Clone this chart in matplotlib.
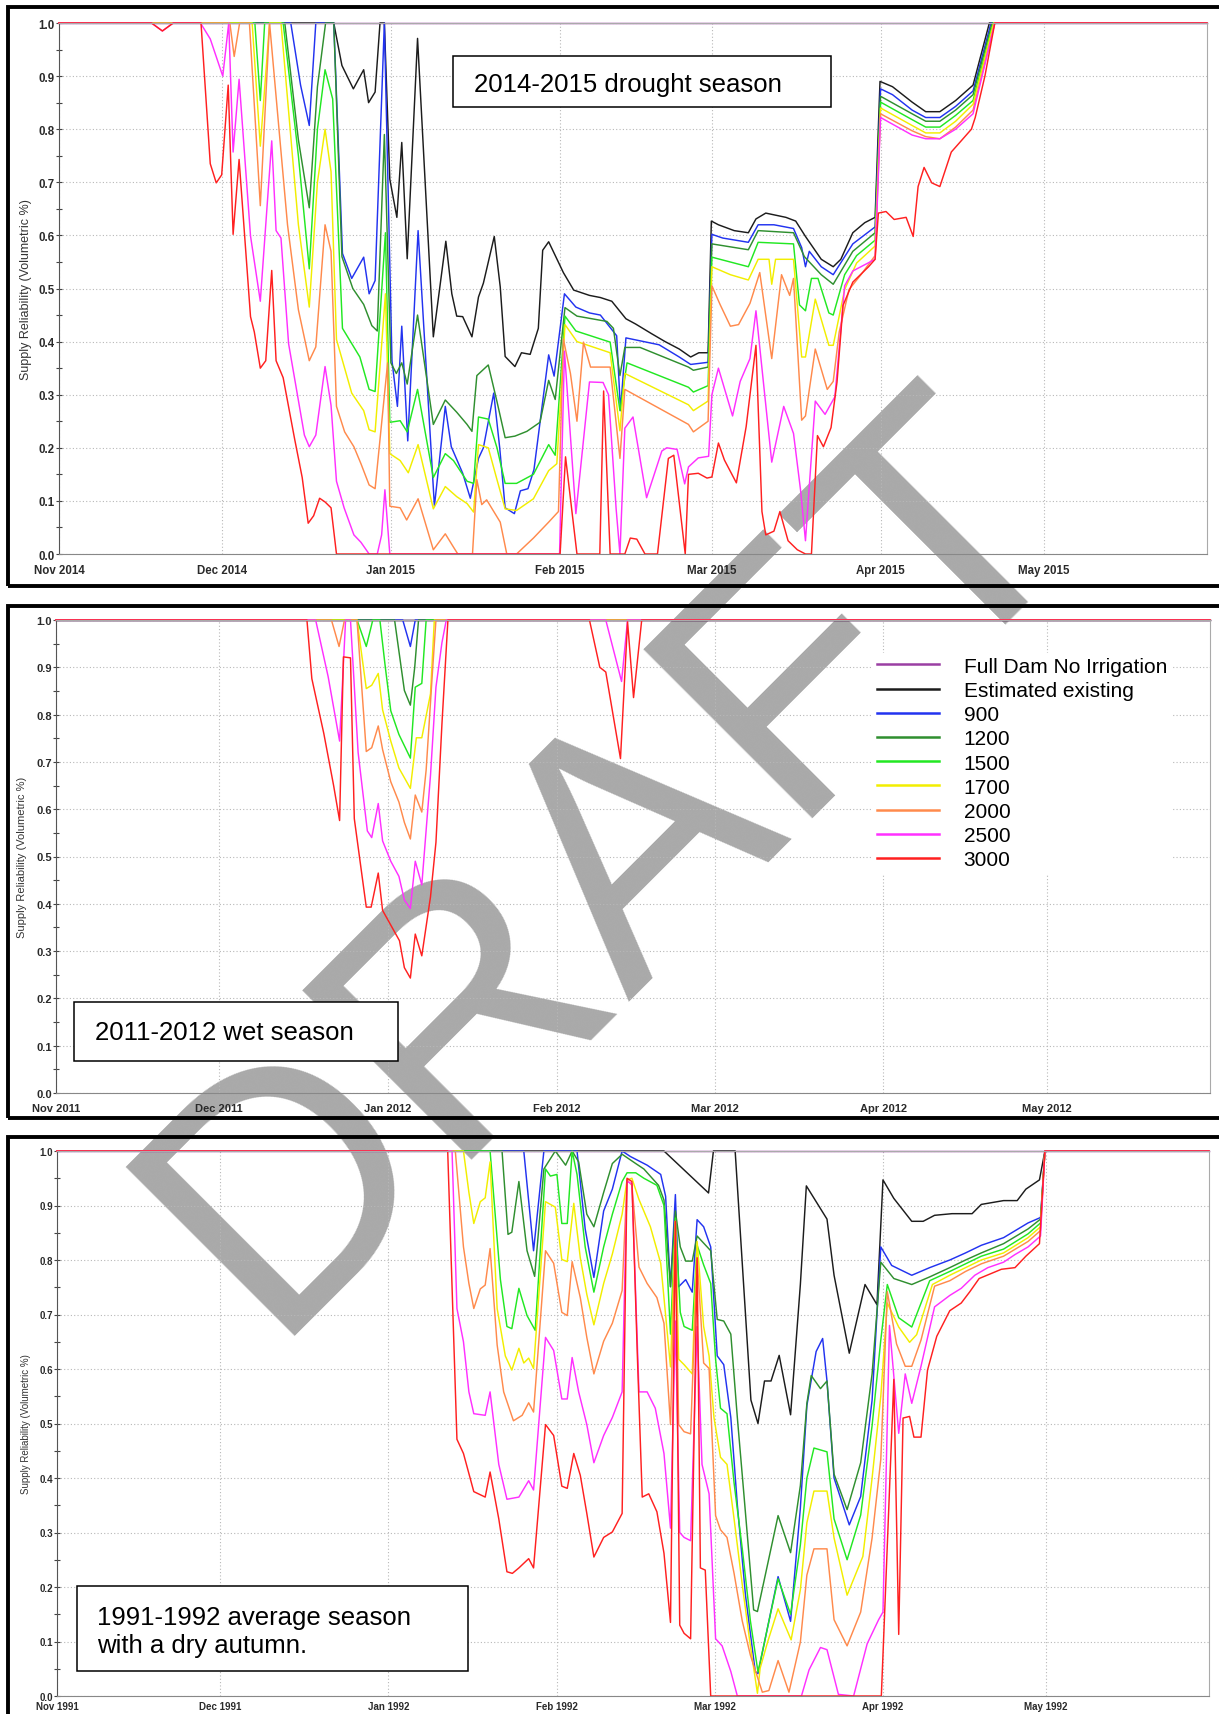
import matplotlib
matplotlib.use('Agg')
import matplotlib.pyplot as plt
import matplotlib.dates as mdates
from matplotlib.patches import Rectangle
from datetime import datetime

plt.rcParams['font.family'] = ['Liberation Sans', 'DejaVu Sans']

W, H = 1219, 1715

LABELS = ['Full Dam No Irrigation', 'Estimated existing', '900', '1200', '1500',
          '1700', '2000', '2500', '3000']
COLORS = ['#9a3fa3', '#1c1c1c', '#2233f0', '#2f8f2f', '#22e822', '#f2ee00',
          '#ff8a4c', '#ff30ff', '#ff2020']

# (days since 1 Nov, supply reliability)
# ---- 2014-2015 drought season ----
P1_PURPLE = [(0, 1), (211, 1)]
P1_BLACK = [(0, 1), (50.5, 1), (52, 0.92), (54.1, 0.876), (56, 0.912), (56.9, 0.85), (58.1, 0.87),
            (59, 1.0), (59.8, 1.0), (60.8, 0.706), (62.1, 0.634), (63, 0.775), (64, 0.556),
            (65.9, 0.971), (68.8, 0.409), (71.1, 0.589), (72.2, 0.49), (73.1, 0.448), (74.2, 0.447),
            (75.9, 0.409), (77.1, 0.484), (78, 0.51), (80, 0.598), (81.1, 0.503), (82, 0.372),
            (83.8, 0.353), (85, 0.379), (86.6, 0.376), (88.1, 0.425), (88.9, 0.572), (90, 0.588),
            (92.7, 0.53), (94.6, 0.497), (97.5, 0.487), (99.5, 0.483), (101.6, 0.476), (104.2, 0.443),
            (106, 0.433), (108.9, 0.415), (111.4, 0.4), (114, 0.386), (116.1, 0.371), (117.6, 0.379),
            (119.3, 0.379), (119.9, 0.627), (121.2, 0.62), (124.1, 0.609), (126.7, 0.605),
            (128.1, 0.631), (129.9, 0.642), (133.6, 0.634), (135.4, 0.627), (137.2, 0.598),
            (140.1, 0.555), (142.3, 0.541), (143.7, 0.555), (145.9, 0.605), (148.1, 0.624),
            (150, 0.634), (150.9, 0.89), (153.2, 0.88), (156.8, 0.851), (159.3, 0.833),
            (161.9, 0.833), (164.8, 0.854), (168, 0.883), (171, 1.0), (211, 1)]
P1_BLUE = [(0, 1), (42.6, 1), (44.4, 0.883), (46, 0.807), (47.2, 1.0), (50.5, 1.0), (52.1, 0.566),
           (53.8, 0.519), (56, 0.559), (57, 0.49), (58.1, 0.515), (59.8, 1.0), (61.2, 0.364),
           (62.2, 0.278), (63, 0.429), (64.1, 0.213), (66, 0.609), (69, 0.09), (71, 0.278),
           (72.1, 0.202), (74.2, 0.152), (75.6, 0.105), (77.1, 0.18), (78, 0.2), (79.9, 0.303),
           (81, 0.2), (82, 0.087), (83.7, 0.076), (84.8, 0.119), (86.2, 0.123), (87.3, 0.159),
           (90, 0.375), (91, 0.335), (92.9, 0.49), (95, 0.465), (97.5, 0.454), (99.5, 0.45),
           (102.5, 0.411), (103.2, 0.27), (104.2, 0.407), (110.3, 0.394), (114, 0.371),
           (116.1, 0.357), (119.3, 0.361), (120, 0.602), (122, 0.595), (126.7, 0.587),
           (128.5, 0.62), (131.4, 0.62), (135, 0.613), (136.5, 0.577), (137.2, 0.541),
           (137.9, 0.57), (140.1, 0.541), (142.3, 0.526), (145.9, 0.584), (150, 0.616),
           (151, 0.876), (153.2, 0.865), (156.8, 0.836), (159.3, 0.822), (161.9, 0.822),
           (164.8, 0.843), (168, 0.872), (171.3, 1.0), (211, 1)]
P1_DKGREEN = [(0, 1), (41.5, 1), (44, 0.78), (46, 0.652), (47.5, 0.88), (49, 1.0), (50.5, 1.0),
              (52, 0.56), (54, 0.5), (56, 0.47), (57.5, 0.43), (58.5, 0.42), (59.8, 0.79), (61, 0.36),
              (62, 0.34), (63, 0.36), (64, 0.32), (65.9, 0.45), (68.8, 0.244), (71, 0.29),
              (73.1, 0.267), (75, 0.244), (75.9, 0.231), (76.8, 0.336), (78.9, 0.356), (80.5, 0.287),
              (82, 0.219), (83.8, 0.222), (86, 0.231), (88.4, 0.248), (90, 0.327), (91.2, 0.291),
              (93, 0.464), (95.2, 0.448), (100.7, 0.438), (101.9, 0.425), (103.1, 0.336),
              (104, 0.389), (106.8, 0.389), (115.7, 0.352), (116.6, 0.346), (119.3, 0.352),
              (120, 0.584), (126.7, 0.573), (128.5, 0.609), (135, 0.605), (137, 0.56),
              (140.1, 0.526), (142.3, 0.508), (145.9, 0.57), (150, 0.605), (151, 0.862),
              (156.8, 0.829), (159.3, 0.815), (161.9, 0.815), (164.8, 0.836), (168, 0.865),
              (171.5, 1.0), (211, 1)]
P1_GREEN = [(0, 1), (36, 1), (37, 0.854), (37.8, 1), (41.2, 1), (44, 0.75), (46, 0.537), (47.5, 0.8),
            (48.9, 0.912), (50.3, 0.857), (52.1, 0.425), (55.3, 0.371), (57, 0.31), (58.1, 0.306),
            (60, 0.605), (60.8, 0.248), (62.7, 0.251), (64, 0.23), (65.9, 0.31), (68.8, 0.144),
            (71, 0.189), (72.5, 0.176), (75, 0.137), (76.2, 0.133), (77.1, 0.258), (78.9, 0.254),
            (80.5, 0.2), (82, 0.133), (84.1, 0.133), (87.2, 0.15), (90, 0.206), (91.2, 0.186),
            (93, 0.448), (95, 0.42), (101.3, 0.399), (103.1, 0.27), (104.4, 0.36), (115.7, 0.314),
            (116.6, 0.305), (119.3, 0.317), (120, 0.559), (126.7, 0.541), (128.5, 0.587),
            (135, 0.584), (136.1, 0.469), (137.2, 0.458), (138.3, 0.519), (139.5, 0.519),
            (141.5, 0.454), (142.3, 0.45), (144.4, 0.526), (146.6, 0.562), (150, 0.591),
            (151, 0.851), (156.8, 0.818), (159.3, 0.804), (161.9, 0.804), (164.8, 0.826),
            (168, 0.854), (171.7, 1.0), (211, 1)]
P1_YELLOW = [(0, 1), (35.5, 1), (37, 0.768), (38.7, 1), (40.8, 1), (44, 0.62), (46, 0.465),
             (47.5, 0.7), (48.9, 0.8), (50, 0.72), (51, 0.404), (53.8, 0.303), (56, 0.27),
             (57, 0.234), (58.1, 0.23), (60, 0.49), (60.8, 0.189), (62.7, 0.176), (64.2, 0.153),
             (66, 0.206), (68.8, 0.085), (71, 0.127), (73.1, 0.108), (75, 0.095), (76.2, 0.079),
             (77.1, 0.206), (78.9, 0.2), (80.5, 0.14), (82, 0.085), (84.1, 0.082), (87.2, 0.104),
             (90, 0.157), (91.5, 0.17), (93, 0.432), (95.2, 0.4), (101.3, 0.379), (103.1, 0.232),
             (104, 0.34), (115.7, 0.281), (116.6, 0.27), (119.3, 0.288), (120, 0.541),
             (123.4, 0.526), (126.7, 0.516), (128.5, 0.555), (130.5, 0.555), (131, 0.508),
             (131.7, 0.555), (135, 0.555), (136.5, 0.371), (137.2, 0.371), (139, 0.48),
             (141.5, 0.393), (142.3, 0.393), (144.4, 0.498), (146.6, 0.548), (150, 0.58),
             (151, 0.84), (156.8, 0.807), (159.3, 0.793), (161.9, 0.793), (164.8, 0.815),
             (168, 0.847), (171.8, 1.0), (211, 1)]
P1_ORANGE = [(0, 1), (31.4, 1), (32.2, 0.937), (33.2, 1), (35, 1), (37, 0.656), (38.7, 1.0),
             (40, 0.85), (42, 0.62), (44, 0.46), (46, 0.364), (47.2, 0.39), (48.9, 0.62), (50, 0.57),
             (51, 0.278), (52.5, 0.23), (54.2, 0.202), (55.5, 0.17), (57, 0.13), (58.1, 0.123),
             (60.4, 0.36), (60.8, 0.09), (62.7, 0.087), (63.9, 0.064), (66, 0.104), (68.8, 0.008),
             (71, 0.038), (72.5, 0.013), (73.3, 0), (76, 0), (76.8, 0.14), (77.7, 0.093),
             (78.6, 0.102), (81.1, 0.06), (82.3, 0), (84.1, 0), (87.2, 0.03), (90, 0.06),
             (91.8, 0.08), (92.7, 0.405), (94, 0.34), (95.2, 0.25), (96.4, 0.399), (97.7, 0.352),
             (101.3, 0.352), (103.1, 0.18), (104, 0.31), (115.7, 0.244), (116.6, 0.23),
             (119.3, 0.25), (120, 0.505), (121.5, 0.47), (123.4, 0.429), (124.9, 0.432),
             (127, 0.472), (128.8, 0.53), (131, 0.368), (132.8, 0.526), (134.3, 0.487),
             (135, 0.519), (136.5, 0.252), (137.2, 0.26), (139, 0.386), (141.2, 0.31),
             (142.3, 0.325), (143.4, 0.418), (145.2, 0.498), (147.4, 0.526), (150, 0.562),
             (151, 0.829), (156.8, 0.797), (159.3, 0.786), (161.9, 0.782), (164.8, 0.804),
             (168, 0.836), (172, 1.0), (211, 1)]
P1_MAGENTA = [(0, 1), (17, 1), (19, 0.985), (21, 1), (26, 1), (27.8, 0.97), (30.1, 0.9), (31.2, 1.0),
              (32, 0.757), (33.1, 0.894), (35.2, 0.599), (37, 0.476), (39.1, 0.778), (39.9, 0.609),
              (40.8, 0.595), (42.2, 0.396), (45.1, 0.224), (46, 0.202), (47.2, 0.224), (48.9, 0.353),
              (50, 0.28), (51, 0.137), (52.4, 0.087), (54.2, 0.036), (55.5, 0.022), (57, 0),
              (58.5, 0), (59.3, 0.036), (59.9, 0.121), (60.8, 0), (92, 0), (92.9, 0.382), (95, 0.076),
              (97.5, 0.324), (100, 0.323), (101, 0.3), (102.4, 0.085), (103.1, 0), (104, 0.237),
              (105.5, 0.258), (108, 0.106), (110.8, 0.194), (111.7, 0.2), (113.6, 0.197),
              (115, 0.132), (115.7, 0.164), (117.5, 0.181), (119.4, 0.184), (120, 0.3),
              (121.2, 0.35), (123.8, 0.26), (125.2, 0.325), (127, 0.368), (128.1, 0.458),
              (131, 0.173), (133.2, 0.278), (135, 0.227), (136.3, 0.12), (137.2, 0.025),
              (139, 0.288), (140.8, 0.263), (142.6, 0.296), (144.4, 0.505), (145.9, 0.533),
              (150, 0.555), (151, 0.822), (156.8, 0.789), (159.3, 0.782), (161.9, 0.782),
              (164.8, 0.8), (168, 0.829), (172, 1.0), (211, 1)]
P1_RED = [(0, 1), (17, 1), (19, 0.985), (21, 1), (26.1, 1), (27.8, 0.735), (28.9, 0.699),
          (29.9, 0.714), (31.1, 0.883), (32, 0.602), (33.1, 0.743), (35.2, 0.447), (35.9, 0.418),
          (37, 0.35), (38, 0.364), (39.1, 0.534), (39.9, 0.364), (41.2, 0.332), (43.3, 0.217),
          (44.7, 0.144), (45.8, 0.058), (46.8, 0.072), (47.9, 0.105), (48.9, 0.098), (50, 0.087),
          (51, 0), (92.1, 0), (93.1, 0.183), (95.2, 0), (99.4, 0), (100.1, 0.307), (101.3, 0),
          (104, 0), (105, 0.03), (106.2, 0.028), (107.7, 0), (110, 0), (112, 0.18), (113, 0.186),
          (115.1, 0), (115.7, 0.15), (117.5, 0.152), (119.1, 0.143), (120, 0.145), (121.2, 0.209),
          (122.3, 0.177), (124.5, 0.134), (126.3, 0.24), (128.1, 0.393), (129.2, 0.08),
          (129.9, 0.036), (131.4, 0.043), (132.5, 0.08), (134, 0.025), (135.7, 0.008),
          (137.2, 0), (138.3, 0), (139.4, 0.223), (140.5, 0.202), (141.9, 0.238), (143, 0.324),
          (144.1, 0.468), (145.9, 0.512), (148.8, 0.541), (150, 0.555), (150.6, 0.642),
          (152, 0.645), (153.5, 0.63), (155.7, 0.634), (157, 0.598), (157.9, 0.692), (159, 0.728),
          (160.4, 0.699), (161.9, 0.692), (164, 0.757), (165.9, 0.779), (167.7, 0.8),
          (168.4, 0.822), (170.2, 0.901), (172, 1.0), (211, 1)]

# ---- 2011-2012 wet season ----
P2_PURPLE = [(0, 1), (212, 1)]
P2_BLACK = [(0, 1), (212, 1)]
P2_BLUE = [(0, 1), (63.7, 1), (65.1, 0.944), (66, 1), (212, 1)]
P2_DKGREEN = [(0, 1), (62.2, 1), (64, 0.851), (65.1, 0.82), (65.9, 0.9), (66.6, 1), (212, 1)]
P2_GREEN = [(0, 1), (55.3, 1), (57, 0.944), (58.2, 1), (59.5, 1), (60.5, 0.9), (61.5, 0.808),
            (63, 0.758), (65.1, 0.708), (66, 0.858), (67.2, 0.866), (68, 1), (212, 1)]
P2_YELLOW = [(0, 1), (55.3, 1), (57, 0.855), (58, 0.862), (59.2, 0.887), (60, 0.81), (61.5, 0.744),
             (63, 0.687), (65.1, 0.644), (66.2, 0.751), (67.2, 0.751), (68.8, 0.844), (69.5, 1),
             (212, 1)]
P2_ORANGE = [(0, 1), (50.6, 1), (52, 0.944), (53, 1), (55.3, 1), (57, 0.722), (58, 0.73),
             (59.2, 0.776), (60, 0.726), (61.5, 0.658), (63, 0.615), (64, 0.572), (65.1, 0.537),
             (66, 0.63), (67.2, 0.594), (68, 0.683), (69.1, 0.88), (69.8, 1), (212, 1)]
P2_MAGENTA = [(0, 1), (47.7, 1), (50, 0.88), (52.1, 0.744), (53.2, 1), (54.1, 1), (55.5, 0.72),
              (57.2, 0.554), (58, 0.54), (59.2, 0.612), (60, 0.533), (61.5, 0.49), (63, 0.458),
              (64, 0.408), (65.1, 0.39), (66, 0.49), (67.2, 0.44), (68.8, 0.672), (69.8, 0.858),
              (70.9, 0.952), (71.7, 1), (101, 1), (103.9, 0.87), (105, 1), (212, 1)]
P2_RED = [(0, 1), (46.1, 1), (47, 0.876), (49.2, 0.76), (51, 0.65), (52.1, 0.576), (52.8, 0.922),
          (54.1, 0.92), (54.8, 0.58), (57, 0.393), (57.9, 0.393), (59.2, 0.465), (60, 0.386),
          (61.5, 0.355), (63.1, 0.322), (64, 0.265), (65.1, 0.243), (66, 0.336), (67.2, 0.29),
          (68.8, 0.415), (69.8, 0.53), (70.9, 0.78), (72, 1), (98, 1), (99.9, 0.9), (101, 0.89),
          (103.7, 0.707), (105, 0.996), (106.1, 0.836), (107.6, 1), (212, 1)]

# ---- 1991-1992 average season ----
P3_PURPLE = [(0, 1), (212, 1)]
P3_BLACK = [(0, 1), (111.7, 1), (119.9, 0.923), (120.8, 1), (124.8, 1), (127.7, 0.543), (129, 0.5),
            (130.2, 0.578), (131.4, 0.578), (132.9, 0.625), (135, 0.516), (136.8, 0.755),
            (137.9, 0.936), (141.7, 0.875), (143, 0.772), (145.8, 0.629), (148.7, 0.755),
            (150.9, 0.718), (152, 0.947), (154, 0.913), (157.3, 0.871), (159.4, 0.871),
            (161.5, 0.882), (164.7, 0.885), (168.4, 0.885), (170.1, 0.902), (174.2, 0.909),
            (176.7, 0.909), (178.3, 0.93), (180.8, 0.947), (181.8, 1), (212, 1)]
P3_BLUE = [(0, 1), (85.9, 1), (87.7, 0.817), (89.6, 1), (95.7, 1), (97.2, 0.857), (98.8, 0.768),
           (100.6, 0.89), (102.2, 0.93), (104, 1), (105.5, 0.99), (108.6, 0.974), (111.1, 0.957),
           (112, 0.917), (112.9, 0.751), (113.8, 0.92), (114.4, 0.751), (115.7, 0.764),
           (116.9, 0.741), (117.8, 0.874), (119, 0.861), (120.3, 0.824), (121.5, 0.624),
           (122.7, 0.608), (124, 0.511), (125.2, 0.351), (126.7, 0.185), (128.5, 0.045),
           (129, 0.041), (132.7, 0.219), (135, 0.137), (136.8, 0.345), (138, 0.533),
           (139.7, 0.632), (140.9, 0.656), (141.7, 0.578), (143, 0.4), (145.8, 0.314),
           (147.9, 0.366), (150, 0.543), (151.6, 0.824), (153.6, 0.79), (157.3, 0.772),
           (160.6, 0.786), (164.3, 0.8), (167.2, 0.813), (170.1, 0.827), (174.2, 0.841),
           (178.7, 0.868), (181, 0.878), (181.8, 1), (212, 1)]
P3_DKGREEN = [(0, 1), (81.9, 1), (83, 0.847), (83.7, 0.851), (85, 0.944), (86.5, 0.817), (87.9, 0.77),
              (89.6, 0.967), (91.7, 1), (93.6, 0.974), (94.8, 1), (96, 0.98), (97.5, 0.884),
              (98.8, 0.861), (100.6, 0.924), (102.2, 0.977), (104, 0.994), (106.5, 0.977),
              (108, 0.967), (110.7, 0.937), (111.7, 0.91), (112.9, 0.751), (113.8, 0.89),
              (114.7, 0.824), (115.7, 0.798), (116.9, 0.798), (117.8, 0.844), (119, 0.831),
              (120.3, 0.817), (121.5, 0.691), (122.7, 0.688), (124, 0.664), (125.2, 0.511),
              (126.4, 0.371), (128.2, 0.158), (128.9, 0.155), (132.7, 0.331), (135, 0.263),
              (136.8, 0.386), (138, 0.537), (138.8, 0.588), (140.5, 0.564), (141.7, 0.578),
              (143, 0.407), (145.4, 0.342), (147.9, 0.428), (150, 0.591), (151.6, 0.796),
              (154, 0.766), (157.3, 0.755), (160.6, 0.769), (164.3, 0.786), (167.2, 0.8),
              (170.1, 0.813), (174.2, 0.83), (178.7, 0.857), (181, 0.875), (181.8, 1), (212, 1)]
P3_GREEN = [(0, 1), (79.7, 1), (81.6, 0.764), (82.8, 0.678), (83.7, 0.674), (85, 0.748),
            (86.5, 0.698), (88, 0.671), (89.9, 0.967), (90.8, 0.954), (92, 0.957), (92.9, 0.867),
            (93.9, 0.867), (94.8, 1), (95.7, 0.957), (97.2, 0.824), (98.8, 0.741), (100.6, 0.824),
            (102.2, 0.884), (104, 0.944), (104.9, 0.96), (106.5, 0.96), (108, 0.95), (110.4, 0.937),
            (111.7, 0.9), (112.9, 0.664), (113.8, 0.877), (114.7, 0.704), (115.4, 0.678),
            (116.9, 0.671), (117.8, 0.827), (119, 0.791), (120.3, 0.757), (121.2, 0.618),
            (122.1, 0.528), (123.3, 0.518), (124.6, 0.391), (126.1, 0.271), (127.6, 0.138),
            (129, 0.044), (132.7, 0.215), (135, 0.15), (136.8, 0.277), (138, 0.4), (139.3, 0.455),
            (141.7, 0.448), (143, 0.325), (145.4, 0.25), (147.9, 0.332), (150, 0.496),
            (151.6, 0.653), (152.8, 0.755), (154.9, 0.694), (157.3, 0.677), (160.6, 0.762),
            (164.3, 0.779), (167.2, 0.793), (170.1, 0.807), (174.2, 0.82), (178.7, 0.848),
            (181, 0.868), (181.8, 1), (212, 1)]
P3_YELLOW = [(0, 1), (74.8, 1), (75.8, 0.924), (76.7, 0.867), (77.9, 0.907), (78.8, 0.914),
             (79.7, 0.98), (81, 0.711), (82.5, 0.624), (83.7, 0.598), (85, 0.638), (85.9, 0.611),
             (86.8, 0.62), (87.7, 0.601), (89.9, 0.907), (91.7, 0.897), (92.9, 0.801),
             (93.9, 0.797), (95.1, 0.904), (96.3, 0.804), (97.5, 0.737), (98.8, 0.681),
             (100.6, 0.757), (102.2, 0.811), (104, 0.884), (104.9, 0.947), (105.8, 0.95),
             (107.1, 0.911), (109.2, 0.861), (111.1, 0.794), (112.9, 0.604), (113.8, 0.871),
             (114.4, 0.618), (115.4, 0.608), (116.9, 0.591), (117.8, 0.834), (119, 0.678),
             (120, 0.624), (120.9, 0.511), (122.1, 0.438), (123.3, 0.425), (124.6, 0.325),
             (126.1, 0.205), (127.6, 0.092), (128.9, 0.005), (129.4, 0.051), (130.8, 0.1),
             (132.7, 0.16), (135.1, 0.103), (136.8, 0.195), (138, 0.318), (139.3, 0.376),
             (141.7, 0.376), (143, 0.29), (145.4, 0.185), (148.3, 0.256), (150, 0.4),
             (151.6, 0.55), (152.8, 0.721), (154.9, 0.677), (156.9, 0.649), (158.2, 0.663),
             (161.1, 0.755), (164.3, 0.772), (167.2, 0.786), (170.1, 0.8), (174.2, 0.813),
             (178.7, 0.841), (181, 0.861), (181.8, 1), (212, 1)]
P3_ORANGE = [(0, 1), (73.3, 1), (74.8, 0.824), (75.8, 0.757), (76.7, 0.711), (77.9, 0.747),
             (78.8, 0.754), (79.7, 0.821), (81, 0.644), (82.2, 0.558), (84, 0.505), (85.6, 0.515),
             (86.8, 0.538), (87.7, 0.521), (89.9, 0.817), (91.4, 0.794), (92.9, 0.704),
             (93.9, 0.698), (94.8, 0.797), (96.3, 0.731), (97.5, 0.658), (98.8, 0.591),
             (100.6, 0.651), (102.2, 0.684), (104, 0.744), (104.9, 0.947), (105.8, 0.937),
             (107.1, 0.787), (108.6, 0.757), (110.4, 0.731), (111.7, 0.684), (112.9, 0.498),
             (113.8, 0.871), (114.4, 0.498), (115.4, 0.485), (116.6, 0.481), (117.8, 0.804),
             (119, 0.611), (120, 0.601), (121.2, 0.331), (122.1, 0.305), (123.3, 0.291),
             (124.6, 0.225), (126.1, 0.138), (127.6, 0.075), (129.8, 0.007), (131, 0.01),
             (132.7, 0.065), (134.7, 0.007), (136.8, 0.099), (138, 0.222), (139.3, 0.27),
             (141.7, 0.27), (143, 0.14), (145.4, 0.092), (147.9, 0.154), (150, 0.29),
             (151.6, 0.434), (152.8, 0.742), (154.5, 0.646), (156.1, 0.605), (157.3, 0.605),
             (159, 0.653), (161.5, 0.752), (164.3, 0.762), (167.2, 0.779), (170.1, 0.793),
             (174.2, 0.807), (178.7, 0.834), (181, 0.854), (181.8, 1), (212, 1)]
P3_MAGENTA = [(0, 1), (72.7, 1), (73.6, 0.711), (74.8, 0.65), (75.8, 0.558), (76.7, 0.518),
              (78.8, 0.515), (79.7, 0.558), (81.3, 0.425), (82.8, 0.361), (85, 0.365),
              (86.8, 0.395), (87.7, 0.378), (89.9, 0.658), (91.4, 0.634), (92.9, 0.545),
              (93.9, 0.545), (94.8, 0.621), (96, 0.558), (97.5, 0.498), (98.8, 0.428),
              (100.6, 0.478), (102.2, 0.511), (104, 0.558), (104.9, 0.944), (105.8, 0.94),
              (107.1, 0.558), (108.6, 0.558), (110.1, 0.528), (111.7, 0.445), (112.9, 0.308),
              (113.8, 0.688), (114.6, 0.3), (115.4, 0.291), (116.6, 0.285), (117.8, 0.678),
              (118.7, 0.425), (120, 0.371), (121.2, 0.105), (122.4, 0.092), (124, 0.045),
              (125.2, 0), (137, 0), (138.4, 0.048), (140.5, 0.089), (141.7, 0.085), (143.8, 0.003),
              (146.6, 0), (149.1, 0.096), (151.2, 0.14), (152, 0.154), (153.2, 0.68),
              (154.9, 0.482), (156.1, 0.591), (157.3, 0.537), (159, 0.605), (161.5, 0.714),
              (164.3, 0.735), (166.4, 0.748), (168.9, 0.772), (171.3, 0.786), (174.2, 0.796),
              (176.3, 0.81), (178.7, 0.824), (181, 0.844), (181.8, 1), (212, 1)]
P3_RED = [(0, 1), (71.9, 1), (73.6, 0.471), (74.8, 0.445), (76.7, 0.375), (78.8, 0.365),
          (79.7, 0.411), (81.3, 0.325), (82.8, 0.228), (83.8, 0.225), (85, 0.235), (86.8, 0.252),
          (87.7, 0.235), (89.9, 0.498), (91.4, 0.478), (92.9, 0.385), (93.9, 0.381),
          (95.1, 0.445), (96.3, 0.405), (97.5, 0.335), (98.8, 0.255), (100.6, 0.291),
          (102.2, 0.301), (104, 0.335), (104.9, 0.95), (105.8, 0.944), (106.8, 0.625),
          (107.7, 0.365), (108.9, 0.371), (110.4, 0.338), (111.7, 0.262), (112.9, 0.135),
          (113.8, 0.871), (114.6, 0.13), (115.4, 0.115), (116.6, 0.105), (117.8, 0.804),
          (118.4, 0.235), (119.3, 0.231), (120.3, 0), (151.7, 0), (152.3, 0.15), (154, 0.581),
          (154.9, 0.113), (155.7, 0.51), (156.9, 0.513), (157.7, 0.475), (159, 0.475),
          (160.2, 0.598), (161.9, 0.66), (164.3, 0.707), (166.4, 0.721), (168, 0.742),
          (169.7, 0.766), (173.8, 0.783), (176.3, 0.786), (178.3, 0.807), (180.8, 0.83),
          (181.8, 1), (212, 1)]

PANEL1 = [P1_PURPLE, P1_BLACK, P1_BLUE, P1_DKGREEN, P1_GREEN, P1_YELLOW, P1_ORANGE, P1_MAGENTA, P1_RED]
PANEL2 = [P2_PURPLE, P2_BLACK, P2_BLUE, P2_DKGREEN, P2_GREEN, P2_YELLOW, P2_ORANGE, P2_MAGENTA, P2_RED]
PANEL3 = [P3_PURPLE, P3_BLACK, P3_BLUE, P3_DKGREEN, P3_GREEN, P3_YELLOW, P3_ORANGE, P3_MAGENTA, P3_RED]

YLABEL = 'Supply Reliability (Volumetric %)'


def px_rect(l, t, r, b):
    # pixel box (from top left) -> figure fraction rect
    return [l / W, 1 - b / H, (r - l) / W, (b - t) / H]


def draw_panel(fig, rect, start, end, series, tick_fs, xpad, ylab_x, ylab_fs):
    ax = fig.add_axes(px_rect(*rect))
    ax.set_facecolor('none')   # watermark shows through
    base = mdates.date2num(start)
    for pts, col, lab in zip(series, COLORS, LABELS):
        xs = [base + d for d, v in pts]
        ys = [v for d, v in pts]
        ax.plot(xs, ys, color=col, lw=1.05, label=lab, clip_on=False)
    ax.set_xlim(base, mdates.date2num(end))
    ax.set_ylim(0, 1)
    ax.xaxis.set_major_locator(mdates.MonthLocator())
    ax.xaxis.set_major_formatter(mdates.DateFormatter('%b %Y'))
    ax.set_yticks([i / 10 for i in range(11)])
    ax.set_yticks([i / 20 for i in range(1, 20, 2)], minor=True)
    ax.yaxis.set_major_formatter(matplotlib.ticker.FormatStrFormatter('%.1f'))
    ax.grid(True, which='major', color='#b8b8b8', linestyle=(0, (1, 2)), lw=0.8)
    ax.tick_params(axis='x', length=0, pad=xpad, labelsize=tick_fs, labelcolor='#2a2a2a')
    ax.tick_params(axis='y', which='both', direction='inout', length=4, width=0.8,
                   pad=1, labelsize=tick_fs, labelcolor='#2a2a2a', color='#444444')
    for lbl in ax.get_xticklabels() + ax.get_yticklabels():
        lbl.set_fontweight('bold')
    ax.spines['left'].set_color('#555555')
    ax.spines['bottom'].set_color('#888888')
    ax.spines['right'].set_color('#aaaaaa')
    ax.spines['top'].set_color('#aaaaaa')
    cy = (rect[1] + rect[3]) / 2
    fig.text(ylab_x / W, 1 - cy / H, YLABEL, rotation=90, ha='center', va='center',
             fontsize=ylab_fs, color='#333333')
    return ax


def frame(fig, l, t, r, b, lw, fill=False):
    fig.add_artist(Rectangle((l / W, 1 - b / H), (r - l) / W, (b - t) / H,
                             transform=fig.transFigure, fill=fill, fc='white', ec='black',
                             lw=lw, zorder=50))


fig = plt.figure(figsize=(W / 100, H / 100), dpi=100)

# watermark sits underneath the charts
fig.text(266 / W, 1 - 1336 / H, 'DRAFT', rotation=45, rotation_mode='anchor', ha='left',
         va='baseline', fontsize=250, color='#a9a9a9', zorder=-5)

ax1 = draw_panel(fig, (59, 24, 1207, 555), datetime(2014, 11, 1), datetime(2015, 5, 31),
                 PANEL1, 8.3, 7, 26, 9)
ax2 = draw_panel(fig, (56, 621, 1210, 1094), datetime(2011, 11, 1), datetime(2012, 5, 31),
                 PANEL2, 8.0, 7, 22, 8)
ax3 = draw_panel(fig, (57, 1152, 1209, 1697), datetime(1991, 11, 1), datetime(1992, 5, 31),
                 PANEL3, 7.0, 3.3, 26, 7)

# legend in the middle panel
leg = ax2.legend(loc='center left', bbox_to_anchor=(0.699, 0.6975), fontsize=15,
                 handlelength=2.95, handletextpad=1.2, labelspacing=0.25, borderpad=0.2,
                 frameon=True, fancybox=False, facecolor='white', edgecolor='none',
                 framealpha=1)
for h in leg.get_lines():
    h.set_linewidth(1.8)

# panel frames
frame(fig, 8, 7.5, 1235, 587, 2.8)
frame(fig, 8, 607, 1235, 1119, 2.8)
frame(fig, 8, 1137.5, 1235, 1740, 2.8)

# season boxes
frame(fig, 453, 57, 831, 108, 1.1, fill=True)
fig.text(474 / W, 1 - 92 / H, '2014-2015 drought season', fontsize=18.5, ha='left',
         va='baseline', zorder=51)
frame(fig, 74, 1003, 398, 1062, 1.1, fill=True)
fig.text(95 / W, 1 - 1040 / H, '2011-2012 wet season', fontsize=18.5, ha='left',
         va='baseline', zorder=51)
frame(fig, 77, 1587, 468, 1672, 1.1, fill=True)
fig.text(97 / W, 1 - 1625 / H, '1991-1992 average season', fontsize=18.5, ha='left',
         va='baseline', zorder=51)
fig.text(97 / W, 1 - 1653 / H, 'with a dry autumn.', fontsize=18.5, ha='left',
         va='baseline', zorder=51)

fig.savefig('out.png', dpi=100)
